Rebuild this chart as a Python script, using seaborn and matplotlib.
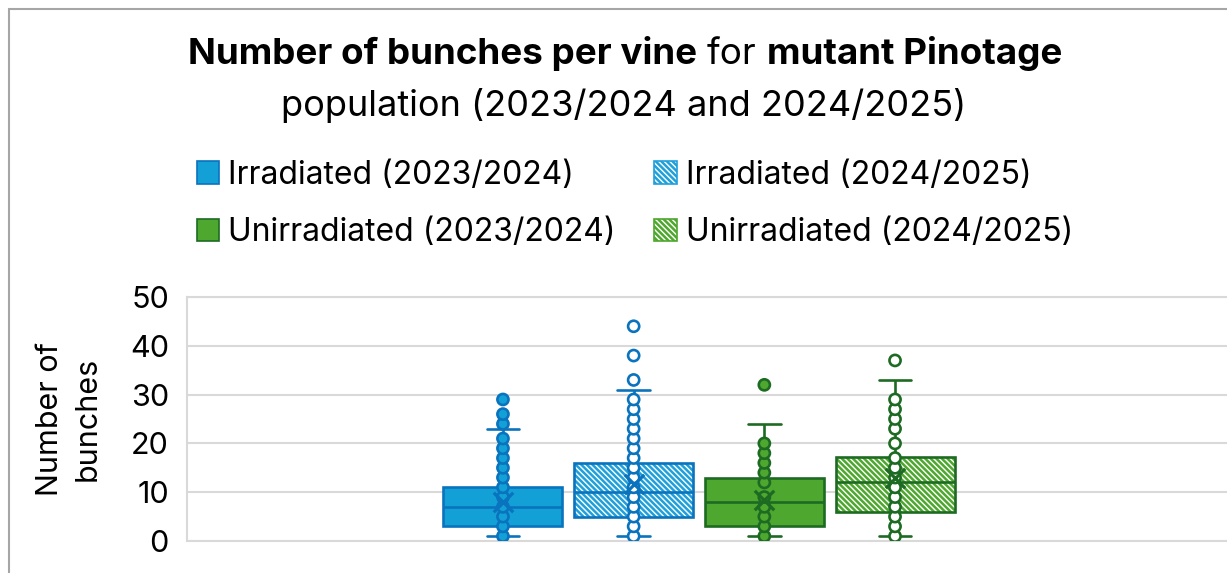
import numpy as np
import pandas as pd
import matplotlib
matplotlib.use("Agg")
import matplotlib.pyplot as plt
import matplotlib.colors as mcolors
from matplotlib.patches import Patch, Rectangle
import seaborn as sns

# Box statistics (Excel box & whisker)
groups = ["Irradiated (2023/2024)", "Irradiated (2024/2025)",
          "Unirradiated (2023/2024)", "Unirradiated (2024/2025)"]
whisker_low = [1, 1, 1, 1]
q1 = [3, 5, 3, 6]
median = [7, 10, 8, 12]
q3 = [11, 16, 13, 17.25]
whisker_high = [23, 31, 24, 33]
means = [7.9, 11.7, 8.4, 12.9]

# individual points (inner points + outliers)
pts_irr_2324 = [1, 3, 5, 7, 9, 11, 13, 15, 17, 19, 21, 24, 26, 29]
pts_irr_2425 = [1, 3, 5, 7, 9, 11, 13, 15, 17, 19, 21, 23, 25, 27, 29, 33, 38, 44]
pts_unirr_2324 = [1, 3, 5, 7, 9, 12, 14, 16, 18, 20, 32]
pts_unirr_2425 = [1, 3, 5, 7, 9, 11, 13, 15, 17, 20, 23, 25, 27, 29, 37]
points = [pts_irr_2324, pts_irr_2425, pts_unirr_2324, pts_unirr_2425]

# styling
blue_fill, blue_dark = "#12A0D7", "#0A73BE"
green_fill, green_dark = "#4EA72E", "#1D6B22"
face = [blue_fill, "white", green_fill, "white"]
edge = [blue_dark, blue_dark, green_dark, green_dark]
hatch_col = [None, "#1FA0DA", None, "#4EA72E"]
HATCH = "\\" * 6
face_pal = dict(zip(groups, face))
edge_pal = dict(zip(groups, edge))

sns.set_style("white")
plt.rcParams["font.family"] = ["Inter", "DejaVu Sans"]
plt.rcParams["text.color"] = "black"
plt.rcParams["axes.labelcolor"] = "black"
plt.rcParams["hatch.linewidth"] = 1.8

W, H = 1227, 573
fig = plt.figure(figsize=(W / 100, H / 100), dpi=100)
ax = fig.add_axes([187 / W, 32 / H, 1 - 187 / W, 244 / H])

# boxes: five-number summary per group -> boxplot with whiskers at min/max
box_df = pd.DataFrame({
    "cat": "",
    "group": np.repeat(groups, 5),
    "value": np.column_stack([whisker_low, q1, median, q3, whisker_high]).ravel(),
})
sns.boxplot(data=box_df, x="cat", y="value", hue="group", hue_order=groups,
            palette=face_pal, saturation=1, linecolor=blue_dark, linewidth=1.9,
            whis=(0, 100), width=0.8, gap=0.09, showfliers=False,
            legend=False, ax=ax)

box_patches = sorted(ax.patches, key=lambda p: p.get_path().vertices[:, 0].mean())
centers = np.array([p.get_path().vertices[:, 0].mean() for p in box_patches])
box_w = np.ptp(box_patches[0].get_path().vertices[:, 0])
for i, p in enumerate(box_patches):
    p.set_edgecolor(edge[i])
    if hatch_col[i]:
        p.set_hatch(HATCH)
        p._hatch_color = mcolors.to_rgba(hatch_col[i])
for ln in ax.lines:
    x = np.asarray(ln.get_xdata(), dtype=float)
    i = int(np.argmin(np.abs(centers - x.mean())))
    ln.set_color(edge[i])
    # shorter caps like Excel
    if len(x) == 2 and x[0] != x[1] and abs(x[1] - x[0]) < 0.7 * box_w:
        c = x.mean()
        ln.set_xdata([c - 0.025, c + 0.025])

for i, g in enumerate(groups):
    pdf = pd.DataFrame({"cat": "", "value": points[i], "group": g})
    sns.stripplot(data=pdf, x="cat", y="value", hue="group", hue_order=groups,
                  palette=face_pal, edgecolor=edge[i], linewidth=1.9,
                  size=8, jitter=False, dodge=True, legend=False, ax=ax,
                  zorder=3)

mdf = pd.DataFrame({"cat": "", "value": means, "group": groups})
sns.stripplot(data=mdf, x="cat", y="value", hue="group", hue_order=groups,
              palette=edge_pal, marker="x", linewidth=2.3, size=14,
              jitter=False, dodge=True, legend=False, ax=ax, zorder=4)

ax.set_xlim(-0.7835, 0.808)
ax.set_ylim(0, 50)
ax.set_yticks(range(0, 51, 10))
ax.set_xticks([])
ax.set_xlabel("")
ax.grid(axis="y", color="#D9D9D9", linewidth=1.5)
ax.set_axisbelow(True)
for s in ["left", "top", "bottom"]:
    ax.spines[s].set_color("#D9D9D9")
    ax.spines[s].set_linewidth(1.5)
ax.spines["right"].set_visible(False)
ax.tick_params(axis="y", length=0, pad=13, labelsize=22, labelcolor="black")
ax.set_ylabel("Number of\nbunches", fontsize=22, linespacing=1.45)
ax.yaxis.set_label_coords((102 - 187) / 1040, 0.5)

# legend
handles = []
order = [0, 2, 1, 3]
for i in order:
    h = Patch(facecolor=face[i], edgecolor=edge[i] if not hatch_col[i] else hatch_col[i],
              linewidth=1.2, hatch=HATCH if hatch_col[i] else None)
    if hatch_col[i]:
        h._hatch_color = mcolors.to_rgba(hatch_col[i])
    handles.append(h)
fig.legend(handles, [groups[i] for i in order], ncol=2, loc="center",
           bbox_to_anchor=(635 / W, 1 - 204 / H), frameon=False,
           fontsize=23, handlelength=0.7, handleheight=0.7,
           handletextpad=0.3, columnspacing=1.2, labelspacing=0.83,
           borderpad=0)

# title with mixed weights
renderer = fig.canvas.get_renderer()


def text_w(s, size, weight):
    t = fig.text(0, 0, s, fontsize=size, fontweight=weight)
    w = t.get_window_extent(renderer).width
    t.remove()
    return w


def rich_line(parts, y_px, size, cx_px):
    space = text_w("x x", size, "normal") - text_w("xx", size, "normal")
    widths = [text_w(s, size, w) for s, w in parts]
    total = sum(widths) + space * (len(parts) - 1)
    x = cx_px - total / 2
    for (s, w), wd in zip(parts, widths):
        fig.text(x / W, 1 - y_px / H, s, fontsize=size, fontweight=w,
                 va="baseline", ha="left", color="black")
        x += wd + space


rich_line([("Number of bunches per vine", "bold"), ("for", "normal"),
           ("mutant Pinotage", "bold")], 64, 26.5, 625)
rich_line([("population (2023/2024 and 2024/2025)", "normal")], 116, 26, 624)

# chart frame (left and top edges visible)
fig.add_artist(Rectangle((9 / W, -0.1), 1.2, 1.1 - 9 / H, transform=fig.transFigure,
                         fill=False, edgecolor="#A6A6A6", linewidth=1.5))

fig.savefig("out.png", dpi=100)
